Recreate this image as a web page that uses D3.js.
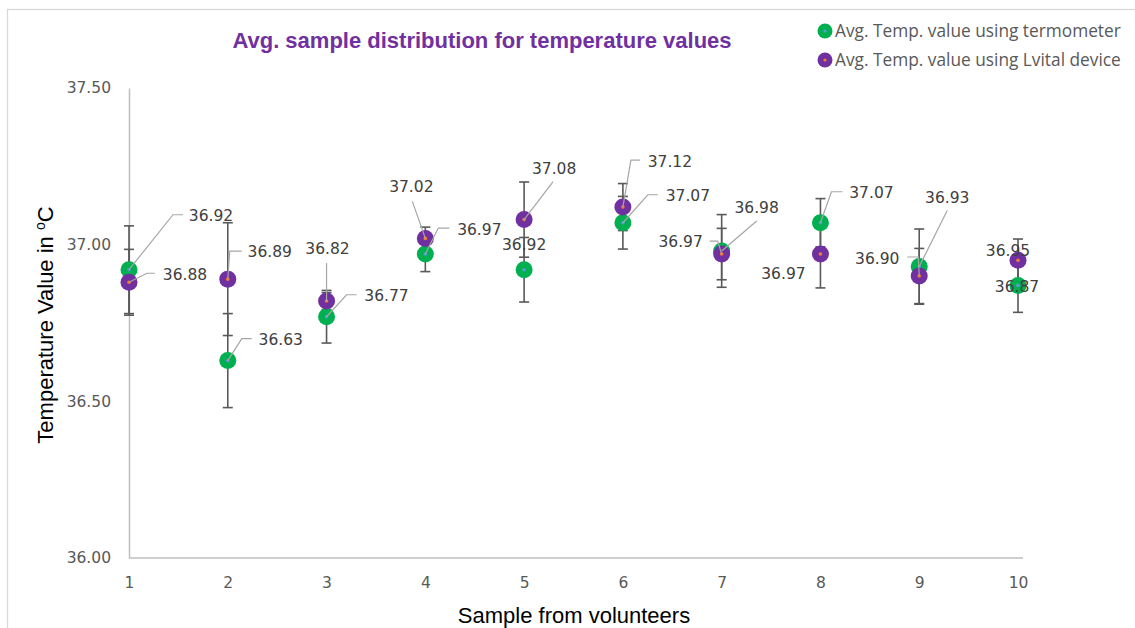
<!DOCTYPE html>
<html><head><meta charset="utf-8">
<script src="https://cdn.jsdelivr.net/npm/d3@7"></script>
<style>
html,body{margin:0;padding:0;background:#fff;}
svg{display:block;}
</style>
</head><body>
<svg id="chart" width="1135" height="628"></svg>
<script>
// ---- data ----
const samples = [1, 2, 3, 4, 5, 6, 7, 8, 9, 10];
const thermoValues = [36.92, 36.63, 36.77, 36.97, 36.92, 37.07, 36.98, 37.07, 36.93, 36.87];
const lvitalValues = [36.88, 36.89, 36.82, 37.02, 37.08, 37.12, 36.97, 36.97, 36.90, 36.95];
const thermoErrors = [0.14, 0.15, 0.084, 0.056, 0.103, 0.084, 0.116, 0.077, 0.12, 0.086];
const lvitalErrors = [0.105, 0.18, 0.027, 0.036, 0.12, 0.075, 0.082, 0.108, 0.088, 0.068];
const yTickValues = [36.00, 36.50, 37.00, 37.50];
const xTickValues = [1, 2, 3, 4, 5, 6, 7, 8, 9, 10];
const seriesNames = ["Avg. Temp. value using termometer", "Avg. Temp. value using Lvital device"];
const titleText = "Avg. sample distribution for temperature values";
const xTitle = "Sample from volunteers";

// ---- label layout (pixel offsets from the point: text centre, leader polyline) ----
const thermoLabelLayout = [
  {dx: 82, dy: -54, leader: [[44, -55], [54, -55]]},
  {dx: 53, dy: -21, leader: [[14, -22], [24, -22]]},
  {dx: 60, dy: -21, leader: [[20, -22], [30, -22]]},
  {dx: 54, dy: -25, leader: [[13, -26], [24, -26]]},
  {dx: 0, dy: -25, leader: null},
  {dx: 65, dy: -27, leader: [[25, -28], [35, -28]]},
  {dx: 35, dy: -44, leader: [[35, -30]]},
  {dx: 51, dy: -30, leader: [[11, -31], [22, -31]]},
  {dx: 28, dy: -69, leader: [[28, -56]]},
  {dx: -1, dy: 1, leader: null}
];
const lvitalLabelLayout = [
  {dx: 56, dy: -8, leader: [[18, -9], [26, -9]]},
  {dx: 42, dy: -28, leader: [[2, -28], [14, -28]]},
  {dx: 1, dy: -53, leader: [[0, -38]]},
  {dx: -14, dy: -52, leader: [[-13, -37]]},
  {dx: 30, dy: -51, leader: [[29, -38]]},
  {dx: 47, dy: -46, leader: [[8, -47], [17, -47]]},
  {dx: -41, dy: -13, leader: [[-4, -13], [-12, -13]]},
  {dx: -37, dy: 19, leader: null},
  {dx: -42, dy: -18, leader: [[-1, -19], [-12, -19]]},
  {dx: -10, dy: -10, leader: null}
];

const svg = d3.select("#chart");
const x = d3.scaleLinear().domain([1, 10]).range([129, 1018]);
const y = d3.scaleLinear().domain([36, 37.5]).range([558, 88]);

// chart border
svg.append("rect").attr("x", 7.5).attr("y", 9.5).attr("width", 1200).attr("height", 700)
  .attr("fill", "none").attr("stroke", "#d9d9d9").attr("stroke-width", 1.3);

// title
svg.append("text").attr("x", 482).attr("y", 48)
  .attr("text-anchor", "middle")
  .style("font-family", "'Liberation Sans', Arial, sans-serif")
  .style("font-weight", "bold").style("font-size", "22px")
  .attr("fill", "#7030a0").text(titleText);

// axes
const yAxis = d3.axisLeft(y).tickValues(yTickValues).tickSize(0).tickPadding(18)
  .tickFormat(d3.format(".2f"));
const gy = svg.append("g").attr("transform", "translate(129,0)").call(yAxis);
gy.select(".domain").attr("stroke", "#bfbfbf").attr("stroke-width", 1.5);
gy.selectAll("text").attr("fill", "#595959")
  .style("font-family", "'DejaVu Sans', sans-serif").style("font-size", "15.5px");

const xAxis = d3.axisBottom(x).tickValues(xTickValues).tickSize(0).tickPadding(19)
  .tickFormat(d3.format("d"));
const gx = svg.append("g").attr("transform", "translate(0,558)").call(xAxis);
gx.select(".domain").attr("stroke", "#bfbfbf").attr("stroke-width", 1.5)
  .attr("d", "M129,0H1023");
gx.selectAll("text").attr("fill", "#595959")
  .style("font-family", "'DejaVu Sans', sans-serif").style("font-size", "15.5px");

// axis titles
svg.append("text").attr("x", 574).attr("y", 623).attr("text-anchor", "middle")
  .style("font-family", "'Liberation Sans', Arial, sans-serif").style("font-size", "22px")
  .attr("fill", "#000").text(xTitle);
const yt = svg.append("text").attr("transform", "translate(53,325) rotate(-90)")
  .attr("text-anchor", "middle")
  .style("font-family", "'Liberation Sans', Arial, sans-serif").style("font-size", "22px")
  .attr("fill", "#000");
yt.append("tspan").text("Temperature Value in ");
yt.append("tspan").attr("font-size", "14px").attr("dy", "-8").text("o");
yt.append("tspan").attr("dy", "8").text("C");

// series definition
const series = [
  {name: seriesNames[0], values: thermoValues, errors: thermoErrors, layout: thermoLabelLayout,
   color: "#00b050", dot: "#5b9bd5"},
  {name: seriesNames[1], values: lvitalValues, errors: lvitalErrors, layout: lvitalLabelLayout,
   color: "#7030a0", dot: "#ed7d31"}
];

// error bars
const eb = svg.append("g").attr("stroke", "#595959").attr("stroke-width", 1.6);
series.forEach(s => {
  samples.forEach((d, i) => {
    const cx = x(d), lo = y(s.values[i] - s.errors[i]), hi = y(s.values[i] + s.errors[i]);
    eb.append("line").attr("x1", cx).attr("x2", cx).attr("y1", lo).attr("y2", hi);
    eb.append("line").attr("x1", cx - 5).attr("x2", cx + 5).attr("y1", lo).attr("y2", lo);
    eb.append("line").attr("x1", cx - 5).attr("x2", cx + 5).attr("y1", hi).attr("y2", hi);
  });
});

// markers
series.forEach(s => {
  const g = svg.append("g");
  g.selectAll("circle.m").data(samples).join("circle").attr("class", "m")
    .attr("cx", d => x(d)).attr("cy", (d, i) => y(s.values[i])).attr("r", 8.5)
    .attr("fill", s.color);
  g.selectAll("circle.c").data(samples).join("circle").attr("class", "c")
    .attr("cx", d => x(d)).attr("cy", (d, i) => y(s.values[i])).attr("r", 1.8)
    .attr("fill", s.dot);
});

// leader lines and labels
series.forEach(s => {
  const g = svg.append("g");
  samples.forEach((d, i) => {
    const px = x(d), py = y(s.values[i]);
    const L = s.layout[i];
    if (L.leader) {
      const pts = [[px, py]].concat(L.leader.map(p => [px + p[0], py + p[1]]));
      g.append("path").attr("d", d3.line()(pts)).attr("fill", "none")
        .attr("stroke", "#a6a6a6").attr("stroke-width", 1.2);
    }
  });
});
series.forEach(s => {
  const g = svg.append("g");
  samples.forEach((d, i) => {
    const px = x(d), py = y(s.values[i]);
    const L = s.layout[i];
    g.append("text").attr("x", px + L.dx).attr("y", py + L.dy).attr("dy", "0.36em")
      .attr("text-anchor", "middle")
      .style("font-family", "'DejaVu Sans', sans-serif").style("font-size", "15.5px")
      .attr("fill", "#404040").text(d3.format(".2f")(s.values[i]));
  });
});

// legend
series.forEach((s, k) => {
  const ly = 31 + k * 29;
  svg.append("circle").attr("cx", 825).attr("cy", ly).attr("r", 7.5).attr("fill", s.color);
  svg.append("circle").attr("cx", 825).attr("cy", ly).attr("r", 1.6).attr("fill", s.dot);
  svg.append("text").attr("x", 835).attr("y", ly).attr("dy", "0.36em")
    .style("font-family", "'Open Sans', sans-serif").style("font-size", "17.3px")
    .attr("fill", "#595959").text(s.name);
});
</script>
</body></html>
